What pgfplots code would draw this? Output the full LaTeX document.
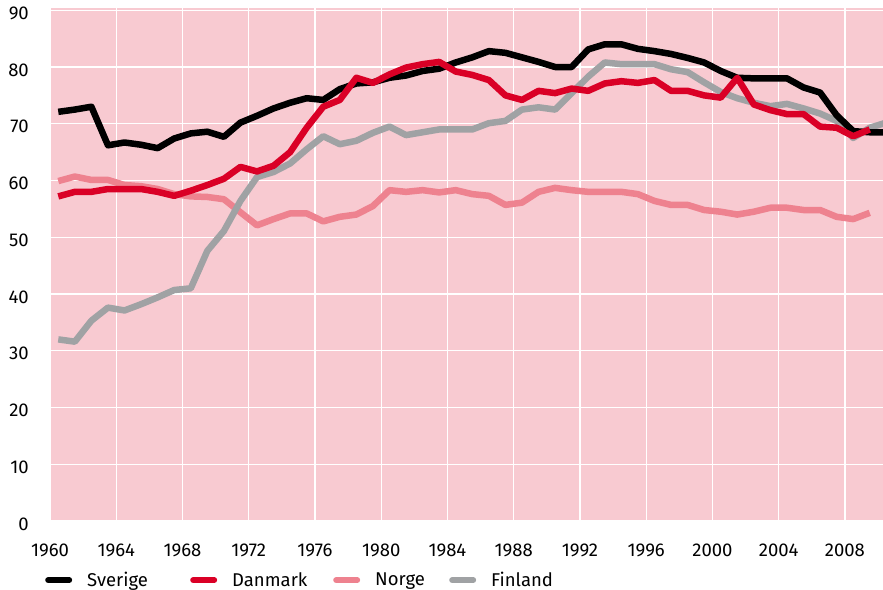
\documentclass[border=0pt]{standalone}
\usepackage{pgfplots}
\pgfplotsset{compat=1.18}
\usepackage{pgfplotstable}
\usepackage{fontspec}
\setmainfont{Fira Sans}

\definecolor{bgpink}{HTML}{F8CAD1}
\definecolor{dkred}{HTML}{DA0026}
\definecolor{nopink}{HTML}{EE828F}
\definecolor{figray}{HTML}{A0A2A4}

% share of employed, by year
\pgfplotstableread{
year swe  den  nor  fin
1960 72.1 57.2 59.9 32.0
1961 72.5 58.0 60.7 31.6
1962 73.0 58.0 60.1 35.3
1963 66.2 58.5 60.1 37.6
1964 66.7 58.5 59.2 37.1
1965 66.3 58.5 59.0 38.2
1966 65.7 58.0 58.5 39.4
1967 67.4 57.3 57.6 40.7
1968 68.3 58.2 57.2 41.0
1969 68.6 59.2 57.1 47.6
1970 67.7 60.3 56.7 51.1
1971 70.2 62.4 54.4 56.4
1972 71.4 61.6 52.1 60.6
1973 72.7 62.6 53.2 61.5
1974 73.7 65.0 54.2 63.0
1975 74.5 69.3 54.2 65.5
1976 74.2 73.0 52.8 67.8
1977 76.1 74.2 53.6 66.4
1978 77.1 78.1 54.0 67.0
1979 77.3 77.2 55.5 68.4
1980 78.1 78.7 58.3 69.5
1981 78.5 79.9 58.0 68.0
1982 79.3 80.5 58.3 68.5
1983 79.7 80.9 57.9 69.0
1984 80.8 79.2 58.3 69.0
1985 81.7 78.6 57.6 69.0
1986 82.8 77.7 57.3 70.1
1987 82.5 75.0 55.7 70.5
1988 81.7 74.2 56.1 72.5
1989 80.9 75.8 58.0 72.9
1990 80.0 75.4 58.7 72.5
1991 80.0 76.2 58.3 75.4
1992 83.1 75.8 58.0 78.3
1993 84.0 77.1 58.0 80.8
1994 84.0 77.5 58.0 80.5
1995 83.2 77.2 57.6 80.5
1996 82.8 77.7 56.4 80.5
1997 82.3 75.8 55.7 79.6
1998 81.6 75.8 55.7 79.1
1999 80.8 75.0 54.8 77.3
2000 79.3 74.6 54.5 75.6
2001 78.1 78.1 54.0 74.5
2002 78.0 73.4 54.5 73.7
2003 78.0 72.4 55.2 73.1
2004 78.0 71.7 55.2 73.5
2005 76.4 71.7 54.8 72.7
2006 75.5 69.5 54.8 71.8
2007 71.5 69.3 53.6 70.5
2008 68.7 67.8 53.2 67.5
2009 68.5 69.0 54.3 69.3
2010 68.5 nan  nan  70.2
}\rates

\begin{document}
\begin{tikzpicture}
\begin{axis}[
    set layers,
    scale only axis,
    width=833pt, height=513pt,
    xmin=1960, xmax=2010.3,
    ymin=0, ymax=90.4,
    xtick={1960,1964,...,2008},
    ytick={0,10,...,90},
    /pgf/number format/1000 sep={},
    /pgf/number format/assume math mode=true,
    axis background/.style={fill=bgpink},
    axis line style={draw=none},
    major tick length=0pt,
    grid=major,
    major grid style={white, line width=1.3pt},
    tick label style={font=\fontsize{18.5}{22}\selectfont, inner sep=0pt},
    xticklabel style={anchor=north, yshift=-23pt},
    yticklabel style={anchor=east, xshift=-21pt, yshift=-3pt},
    every axis plot/.append style={line width=6.5pt, line join=round},
    legend columns=4,
    legend style={draw=none, fill=none, inner sep=0pt,
        at={(axis description cs:0,0)}, anchor=north west,
        xshift=-5pt, yshift=-51pt,
        nodes={inner sep=0pt},
        font=\fontsize{18.5}{22}\selectfont,
        /tikz/every odd column/.append style={column sep=15pt},
        /tikz/every even column/.append style={column sep=0pt}},
    legend image code/.code={
        \draw[#1, line width=6pt, line cap=round] (3pt,0pt) -- (24pt,0pt);},
]
\addplot[black] table[x expr=\thisrow{year}+0.5, y=swe] {\rates};
\addlegendentry{\makebox[103pt][l]{Sverige}}
\addplot[dkred] table[x expr=\thisrow{year}+0.5, y=den] {\rates};
\addlegendentry{\makebox[101pt][l]{Danmark}}
\addplot[nopink, on layer=pre main] table[x expr=\thisrow{year}+0.5, y=nor] {\rates};
\addlegendentry{\makebox[74pt][l]{Norge}}
\addplot[figray, on layer=pre main] table[x expr=\thisrow{year}+0.5, y=fin] {\rates};
\addlegendentry{Finland}
\end{axis}
\pgfresetboundingbox
\path[use as bounding box] (current axis.south west) ++(-50pt,-69pt)
    rectangle ([yshift=8pt]current axis.north east);
\end{tikzpicture}
\end{document}
